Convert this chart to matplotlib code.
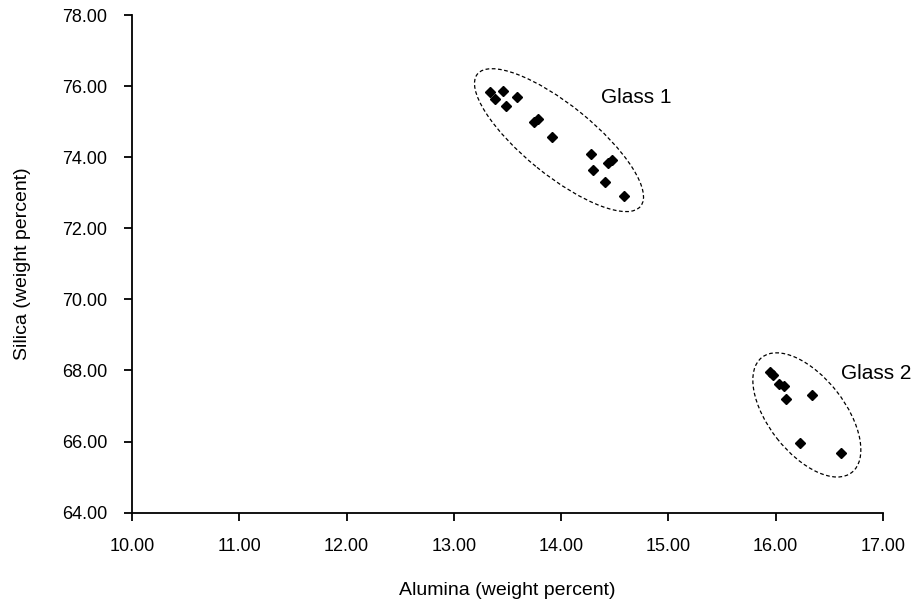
import matplotlib
matplotlib.use('Agg')
import matplotlib.pyplot as plt
import matplotlib.transforms as mtransforms
from matplotlib.patches import Ellipse

plt.rcParams['font.family'] = ['Liberation Sans', 'DejaVu Sans']

# Glass 1 and Glass 2 compositions (weight percent)
alumina_1 = [13.34, 13.38, 13.46, 13.49, 13.59, 13.75, 13.78, 13.91,
             14.28, 14.30, 14.41, 14.44, 14.47, 14.59]
silica_1 = [75.84, 75.63, 75.87, 75.44, 75.70, 74.99, 75.08, 74.58,
            74.08, 73.64, 73.31, 73.85, 73.91, 72.91]
alumina_2 = [15.95, 15.97, 16.03, 16.08, 16.10, 16.34, 16.23, 16.61]
silica_2 = [67.95, 67.87, 67.61, 67.56, 67.20, 67.32, 65.95, 65.67]

# group outlines: centre (data), semi-axes (px), angle (deg), label position
groups = [('Glass 1', (13.98, 74.48), 105, 35, -39, (14.375, 75.68)),
          ('Glass 2', (16.29, 66.75), 73, 38, -52, (16.61, 67.92))]

fig = plt.figure(figsize=(9.18, 6.06), dpi=100)
ax = fig.add_axes([0.1438, 0.154, 0.8181, 0.8212])

ax.plot(alumina_1, silica_1, 'D', color='black', markersize=5.3)
ax.plot(alumina_2, silica_2, 'D', color='black', markersize=5.3)

ax.set_xlim(10, 17)
ax.set_ylim(64, 78)
ax.set_xticks(range(10, 18))
ax.set_yticks(range(64, 79, 2))
ax.xaxis.set_major_formatter(lambda v, p: f'{v:.2f}')
ax.yaxis.set_major_formatter(lambda v, p: f'{v:.2f}')

for name, c, a, b, ang, lab in groups:
    tr = mtransforms.ScaledTranslation(c[0], c[1], ax.transData)
    ax.add_patch(Ellipse((0, 0), 2 * a, 2 * b, angle=ang, transform=tr,
                         fill=False, ec='black', lw=0.9, ls=(0, (3, 2))))
    ax.text(lab[0], lab[1], name, fontsize=15, va='center', ha='left')

for s in ['top', 'right']:
    ax.spines[s].set_visible(False)
for s in ['left', 'bottom']:
    ax.spines[s].set_linewidth(1.3)
ax.tick_params(direction='out', length=6, width=1.3, labelsize=13, pad=12)

ax.set_xlabel('Alumina (weight percent)', fontsize=14, labelpad=20)
ax.set_ylabel('Silica (weight percent)', fontsize=14, labelpad=22)

plt.savefig('out.png', dpi=100)
